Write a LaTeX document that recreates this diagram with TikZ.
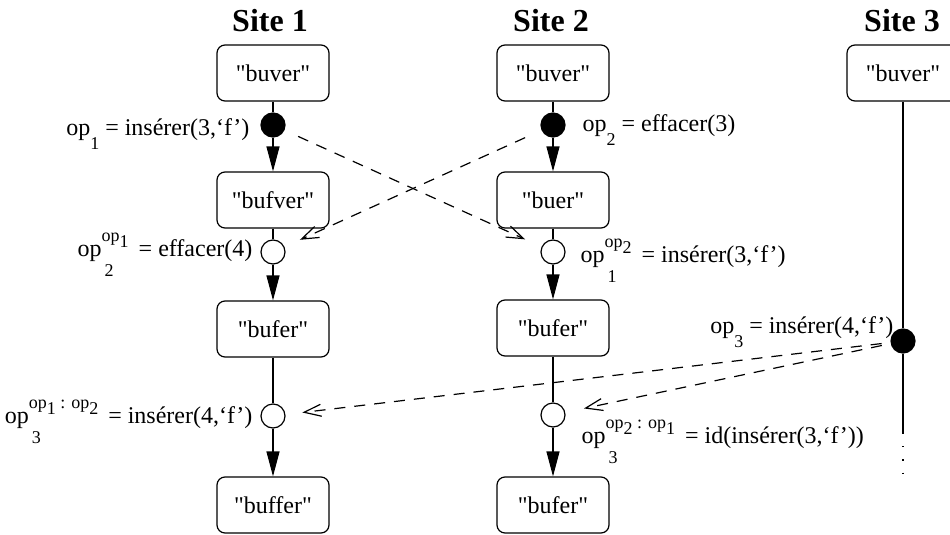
\documentclass[tikz,border=0pt]{standalone}
\usepackage{fontspec}
\setmainfont{Liberation Serif}[Ligatures=TeXOff]
\usetikzlibrary{arrows.meta}
\newcommand\smf{\fontsize{18}{18}\selectfont}
\newcommand\opA[1]{op\raisebox{-0.62em}{\smf #1}}
\newcommand\opB[2]{op\rlap{\kern3pt\raisebox{-0.85em}{\smf #1}}\raisebox{0.6em}{\smf #2}\hspace{4pt}}
\newcommand\sop[1]{op\raisebox{-0.3em}{#1}}
\begin{document}
\begin{tikzpicture}[x=1pt,y=-1pt, line width=1.2pt,
  box/.style={draw, rounded corners=8pt, minimum width=112pt, minimum height=56pt, inner sep=0pt, font=\fontsize{24}{28}\selectfont},
  fdot/.style={draw, circle, fill=black, minimum size=24pt, inner sep=0pt},
  odot/.style={draw, circle, fill=white, minimum size=24pt, inner sep=0pt},
  title/.style={font=\fontsize{32}{36}\selectfont\bfseries, anchor=base, inner sep=0pt},
  lbl/.style={font=\fontsize{24}{28}\selectfont, inner sep=0pt},
  solidarr/.style={-{Triangle[length=25pt,width=13pt]}},
  msg/.style={line width=1.2pt, dash pattern=on 11pt off 9pt, -{Straight Barb[length=17pt,width=12pt]}},
]
\useasboundingbox (0,0) rectangle (950,535);
% titles
\node[title] (t1) at (270,32) {Site 1};
\node[title] (t2) at (551,32) {Site 2};
\node[title] (t3) at (902,32) {Site 3};
% site 1
\node[box] (a1) at (273,73) {"buver"};
\node[fdot] (c11) at (273,125) {};
\node[box] (a2) at (273,200) {"bufver"};
\node[odot] (c12) at (273,252) {};
\node[box] (a3) at (273,329) {"bufer"};
\node[odot] (c13) at (273,416) {};
\node[box] (a4) at (273,505) {"buffer"};
% site 2
\node[box] (b1) at (553,73) {"buver"};
\node[fdot] (c21) at (553,125) {};
\node[box] (b2) at (553,200) {"buer"};
\node[odot] (c22) at (553,252) {};
\node[box] (b3) at (553,328) {"bufer"};
\node[odot] (c23) at (553,415) {};
\node[box] (b4) at (553,505) {"bufer"};
% site 3
\node[box] (d1) at (903,73) {"buver"};
\node[fdot] (c3) at (903,341) {};
\coordinate (e3) at (903,433);
\coordinate (f3) at (903,485);
% vertical connectors
\draw (a1) -- (c11);
\draw[solidarr] (c11) -- (a2);
\draw (a2) -- (c12);
\draw[solidarr] (c12) -- (a3);
\draw (a3) -- (c13);
\draw[solidarr] (c13) -- (a4);
\draw (b1) -- (c21);
\draw[solidarr] (c21) -- (b2);
\draw (b2) -- (c22);
\draw[solidarr] (c22) -- (b3);
\draw (b3) -- (c23);
\draw[solidarr] (c23) -- (b4);
\draw (d1) -- (c3);
\draw (c3) -- (e3);
\draw[dash pattern=on 1.2pt off 12pt] (e3) -- (f3);
% messages
\draw[msg, shorten <=15pt, shorten >=18pt] (c11) -- (c22);
\draw[msg, shorten <=18pt, shorten >=17pt] (c21) -- (c12);
\draw[msg, shorten <=9pt, shorten >=17pt] (c3) -- (c13);
\draw[msg, shorten <=9pt, shorten >=19pt] (c3) -- (c23);
% labels
\node[lbl, anchor=base east] (l1) at (250,135) {\opA{1} = insérer(3,‘f’)};
\node[lbl, anchor=base east] (l2) at (253,256) {\opB{2}{\sop{1}} = effacer(4)};
\node[lbl, anchor=base east] (l3) at (253,423) {\opB{3}{\sop{1} : \sop{2}} = insérer(4,‘f’)};
\node[lbl, anchor=base west] (l4) at (582,131) {\opA{2} = effacer(3)};
\node[lbl, anchor=base west] (l5) at (580,262) {\opB{1}{\sop{2}} = insérer(3,‘f’)};
\node[lbl, anchor=base east] (l6) at (894,333) {\opA{3} = insérer(4,‘f’)};
\node[lbl, anchor=base west] (l7) at (581,443) {\opB{3}{\sop{2} : \sop{1}} = id(insérer(3,‘f’))};
\end{tikzpicture}
\end{document}
